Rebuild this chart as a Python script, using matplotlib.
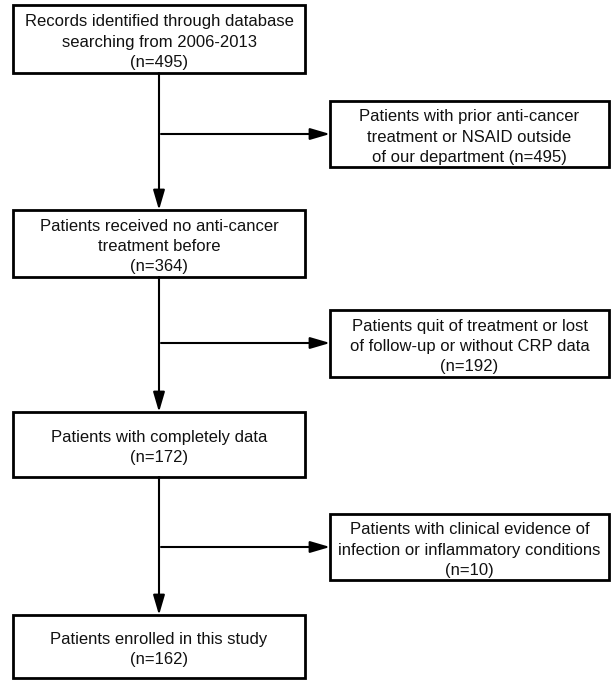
import matplotlib.pyplot as plt
from matplotlib.patches import Rectangle, FancyArrowPatch

plt.rcParams['font.family'] = ['Liberation Sans', 'DejaVu Sans']

# main column boxes (text)
main_texts = [
    'Records identified through database\nsearching from 2006-2013\n(n=495)',
    'Patients received no anti-cancer\ntreatment before\n(n=364)',
    'Patients with completely data\n(n=172)',
    'Patients enrolled in this study\n(n=162)',
]
# excluded boxes on the right
side_texts = [
    'Patients with prior anti-cancer\ntreatment or NSAID outside\nof our department (n=495)',
    'Patients quit of treatment or lost\nof follow-up or without CRP data\n(n=192)',
    'Patients with clinical evidence of\ninfection or inflammatory conditions\n(n=10)',
]

# layout in pixels (top, bottom)
main_boxes = [(5, 73), (210, 277), (412, 477), (615, 678)]
side_boxes = [(101, 167), (310, 377), (514, 580)]
main_x = (13, 305)
side_x = (330, 609)
line_x = 159
branch_y = [134, 343, 547]

W, H = 613, 682
fig = plt.figure(figsize=(W / 100, H / 100), dpi=100)
ax = fig.add_axes([0, 0, 1, 1])
ax.set_xlim(0, W)
ax.set_ylim(H, 0)
ax.axis('off')


def box(x0, x1, top, bottom, txt):
    ax.add_patch(Rectangle((x0, top), x1 - x0, bottom - top, fill=False,
                           edgecolor='black', linewidth=2.0))
    ax.text((x0 + x1) / 2, (top + bottom) / 2 + 3, txt, ha='center', va='center',
            fontsize=12, linespacing=1.42, color='#111111')


def arrow(p0, p1):
    ax.add_patch(FancyArrowPatch(p0, p1,
                                 arrowstyle='-|>,head_length=0.75,head_width=0.22',
                                 mutation_scale=16, linewidth=1.5, color='black',
                                 shrinkA=0, shrinkB=0))


for (t, b), txt in zip(main_boxes, main_texts):
    box(main_x[0], main_x[1], t, b, txt)
for (t, b), txt in zip(side_boxes, side_texts):
    box(side_x[0], side_x[1], t, b, txt)

for i in range(3):
    arrow((line_x, main_boxes[i][1]), (line_x, main_boxes[i + 1][0]))
    arrow((line_x + 2, branch_y[i]), (side_x[0], branch_y[i]))

fig.savefig('out.png', dpi=100)
